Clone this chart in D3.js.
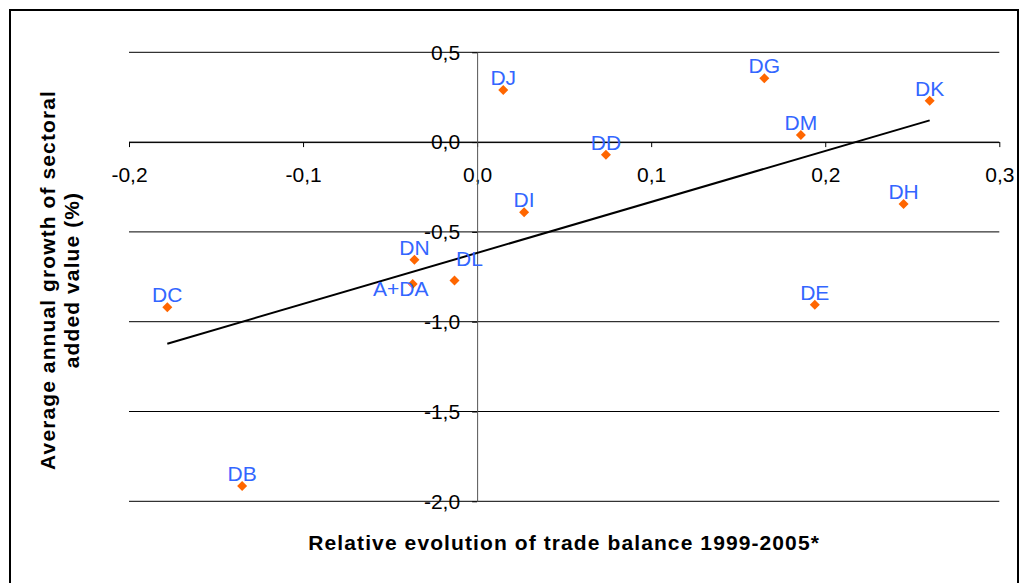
<!DOCTYPE html>
<html>
<head>
<meta charset="utf-8">
<script src="https://cdn.jsdelivr.net/npm/d3@7"></script>
<style>
  body { margin: 0; background: #fff; }
  svg { display: block; font-family: Arial, "Liberation Sans", sans-serif; }
</style>
</head>
<body>
<svg id="chart" width="1028" height="583"></svg>
<script>
// sector codes and their values
const sectors = ['DJ', 'DG', 'DK', 'DM', 'DD', 'DI', 'DH', 'DE', 'DN', 'A+DA', 'DL', 'DC', 'DB'];
const tradeBalance = [0.015, 0.165, 0.260, 0.186, 0.074, 0.027, 0.245, 0.194, -0.036, -0.037, -0.013, -0.178, -0.135];
const valueAddedGrowth = [0.29, 0.355, 0.23, 0.04, -0.07, -0.39, -0.345, -0.905, -0.655, -0.79, -0.77, -0.92, -1.915];

const xTicks = [-0.2, -0.1, 0.0, 0.1, 0.2, 0.3];
const yTicks = [-2.0, -1.5, -1.0, -0.5, 0.0, 0.5];

const xTitle = 'Relative evolution of trade balance 1999-2005*';
const yTitle = ['Average annual growth of sectoral', 'added value (%)'];

// a few labels were dragged by hand in the original
const labelNudge = { 'A+DA': [-12, 17], 'DL': [15, -9] };

const svg = d3.select('#chart');

// outer frame
svg.append('rect')
  .attr('x', 10).attr('y', 10)
  .attr('width', 1008).attr('height', 600)
  .attr('fill', 'none')
  .attr('stroke', '#000')
  .attr('stroke-width', 2);

const x = d3.scaleLinear().domain([-0.2, 0.3]).range([129, 999.3]);
const y = d3.scaleLinear().domain([-2.0, 0.5]).range([501.3, 52.3]);

// comma decimals, plain hyphen for minus
const locale = d3.formatLocale({ decimal: ',', thousands: '.', grouping: [3], currency: ['', ''], minus: '-' });
const fmt = locale.format('.1f');

// horizontal gridlines
svg.append('g')
  .selectAll('line')
  .data(yTicks)
  .join('line')
  .attr('x1', x.range()[0])
  .attr('x2', x.range()[1])
  .attr('y1', d => y(d))
  .attr('y2', d => y(d))
  .attr('stroke', '#000')
  .attr('stroke-width', 1);

// x axis crosses at y = 0
const xAxis = svg.append('g')
  .attr('transform', `translate(0,${y(0)})`)
  .call(d3.axisBottom(x).tickValues(xTicks).tickFormat(fmt).tickSize(5).tickPadding(20).tickSizeOuter(0));

// y axis crosses at x = 0
const yAxis = svg.append('g')
  .attr('transform', `translate(${x(0)},0)`)
  .call(d3.axisLeft(y).tickValues(yTicks).tickFormat(fmt).tickSize(5).tickPadding(12).tickSizeOuter(0));

[xAxis, yAxis].forEach(g => {
  g.select('.domain').attr('stroke', '#000');
  g.selectAll('.tick line').attr('stroke', '#000');
  g.selectAll('.tick text')
    .attr('font-family', 'Arial, "Liberation Sans", sans-serif')
    .attr('font-size', 21)
    .attr('fill', '#000');
});
yAxis.select('.domain').attr('stroke', '#555');

// linear trend line (least squares over the points)
const pts = sectors.map((s, i) => ({ name: s, x: tradeBalance[i], y: valueAddedGrowth[i] }));
const mx = d3.mean(pts, d => d.x);
const my = d3.mean(pts, d => d.y);
const slope = d3.sum(pts, d => (d.x - mx) * (d.y - my)) / d3.sum(pts, d => (d.x - mx) ** 2);
const icpt = my - slope * mx;
const [x0, x1] = d3.extent(pts, d => d.x);

svg.append('line')
  .attr('x1', x(x0)).attr('y1', y(icpt + slope * x0))
  .attr('x2', x(x1)).attr('y2', y(icpt + slope * x1))
  .attr('stroke', '#000')
  .attr('stroke-width', 2);

// markers
svg.append('g')
  .selectAll('path')
  .data(pts)
  .join('path')
  .attr('d', d3.symbol(d3.symbolSquare, 50))
  .attr('transform', d => `translate(${x(d.x)},${y(d.y)}) rotate(45)`)
  .attr('fill', '#FF6600');

// point labels
svg.append('g')
  .selectAll('text')
  .data(pts)
  .join('text')
  .attr('x', d => x(d.x) + (labelNudge[d.name] ? labelNudge[d.name][0] : 0))
  .attr('y', d => y(d.y) - 5 + (labelNudge[d.name] ? labelNudge[d.name][1] : 0))
  .attr('text-anchor', 'middle')
  .attr('font-size', 21)
  .attr('fill', '#3366FF')
  .text(d => d.name);

// axis titles
svg.append('text')
  .attr('x', (x.range()[0] + x.range()[1]) / 2)
  .attr('y', 550)
  .attr('text-anchor', 'middle')
  .attr('font-size', 21)
  .attr('font-weight', 'bold')
  .attr('letter-spacing', 1.1)
  .text(xTitle);

const yt = svg.append('text')
  .attr('transform', 'translate(55,280) rotate(-90)')
  .attr('text-anchor', 'middle')
  .attr('font-size', 21)
  .attr('font-weight', 'bold')
  .attr('letter-spacing', 1.1);
yt.selectAll('tspan')
  .data(yTitle)
  .join('tspan')
  .attr('x', 0)
  .attr('dy', (d, i) => i === 0 ? 0 : 24)
  .text(d => d);
</script>
</body>
</html>
